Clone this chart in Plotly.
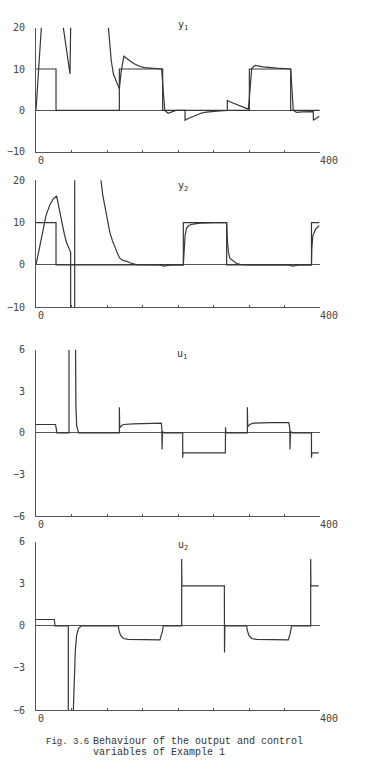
import plotly.graph_objects as go

# ---------------- data ----------------
# y1 : setpoint and output
r1_t = [0, 28.2, 28.2, 117.4, 117.4, 178.4, 178.4, 300.5, 300.5, 358.7, 358.7, 399]
r1_v = [10, 10, 0, 0, 10, 10, 0, 0, 10, 10, 0, 0]
y1_t = [0, 8, 12, 25, 35, 38.5, 43.2, 47.9, 48.8, 51, 70, 90, 102, 106, 109, 114,
        117.4, 120, 123.9, 126, 128, 132, 136, 139, 146.5, 153, 160.6, 170, 177, 179,
        181.5, 186, 190, 197, 209.9, 209.9, 213, 217, 221, 226, 233, 240, 249, 259,
        269.5, 269.5, 273, 278, 282, 287, 293, 299,
        300.5, 303.8, 308.5, 314, 320, 339, 358.7, 362.4, 367, 375, 386, 390.6,
        390.6, 395, 399]
y1_v = [0, 20, 32, 45, 32, 20, 14, 8.8, 20, 30, 40, 40, 20, 12, 8.8, 6.4,
        5.2, 9.5, 13.2, 12.8, 12.5, 12.0, 11.5, 11.2, 10.6, 10.35, 10.2, 10.05, 10.0, 5,
        0, -0.7, -0.4, 0, 0, -2.4, -2.1, -1.8, -1.4, -1.0, -0.65, -0.4, -0.22, -0.1,
        0, 2.4, 2.1, 1.75, 1.35, 0.95, 0.6, 0.3,
        3, 10.1, 10.9, 10.7, 10.5, 10.2, 10.0, 0, -0.5, -0.35, -0.3, -0.3,
        -2.4, -1.9, -1.4]

# y2 : setpoint and output
r2_t = [0, 28.2, 28.2, 207.5, 207.5, 268.5, 268.5, 388, 388, 399]
r2_v = [10, 10, 0, 0, 10, 10, 0, 0, 10, 10]
y2_t = [0, 5.6, 14, 19.7, 24.4, 29, 32.9, 36, 39.9, 43, 46.5, 48, 48.8, 48.8,
        54.5, 54.5, 70, 91.5, 94, 97, 100.5, 104, 107.5, 111, 114.5, 118, 122, 127.7,
        134, 141.8, 160, 175, 180, 190,
        207.5, 208.5, 210, 212, 215, 219, 225, 231, 250, 268.5, 269.5, 271, 273, 278,
        282, 287, 300, 355, 362, 370, 388, 388.5, 390, 394, 399]
y2_v = [0, 5.0, 11.6, 14.3, 15.6, 16.3, 13.1, 10, 7.3, 5.3, 4, 3.4, 3, -30,
        -30, 60, 60, 20, 16.5, 13.9, 10.5, 7.7, 5.8, 4.2, 2.8, 1.6, 1.1, 0.86,
        0.4, 0.1, 0, 0, -0.3, 0,
        0, 4, 7, 8.7, 9.25, 9.6, 9.8, 9.9, 10, 10, 6, 3, 1.6, 0.8,
        0.4, 0.16, 0, 0, -0.3, 0, 0, 4, 7, 8.5, 9.3]

# u1
u1_t = [0, 27.5, 28.5, 29.5, 46.5, 46.5, 55, 55.3, 56.2, 57.3, 59, 60, 117.4, 117.4,
        117.9, 120, 123, 137, 176.5, 177.3, 177.5, 178.2, 180, 206.6, 206.6, 207,
        266.7, 266.9, 267.5, 297.7, 297.7, 298.2, 301, 306, 330, 356, 357.5, 357.7,
        358.5, 361, 388, 388, 388.5, 398]
u1_v = [0.6, 0.6, 0.3, 0, 0, 12, 12, 6, 2, 0.5, 0.1, 0, 0, 1.85,
        0.35, 0.5, 0.6, 0.65, 0.7, 0.3, -1.2, 0.1, 0, 0, -1.8, -1.45,
        -1.45, 0.4, 0, 0, 1.85, 0.45, 0.6, 0.7, 0.74, 0.74, 0.3, -1.2,
        0.1, 0, 0, -1.8, -1.45, -1.45]

# u2
u2_t = [0, 25.8, 26.8, 45.5, 45.5, 52.6, 52.6, 53.5, 55.4, 57.3, 60, 64, 116, 116.8,
        119, 123, 130, 174.6, 177, 178.4, 179.3, 205.2, 205.2, 205.5, 265.3, 265.5,
        266, 296.7, 297.5, 299.7, 303.7, 310.7, 355.3, 357.7, 359.1, 360, 386.9,
        386.9, 387.2, 398]
u2_v = [0.45, 0.45, 0, 0, -15, -15, -6, -4, -1.75, -0.63, -0.18, 0, 0, -0.3,
        -0.67, -0.9, -0.97, -1, -0.63, -0.3, 0, 0, 4.76, 2.85, 2.85, -1.9,
        0, 0, -0.3, -0.67, -0.9, -0.97, -1, -0.63, -0.3, 0, 0,
        4.76, 2.85, 2.85]

panel_names = ["y<sub>1</sub>", "y<sub>2</sub>", "u<sub>1</sub>", "u<sub>2</sub>"]
y_ranges = [[-10, 20], [-10, 20], [-6, 6], [-6, 6]]
y_ticks = [[-10, 0, 10, 20], [-10, 0, 10, 20], [-6, -3, 0, 3, 6], [-6, -3, 0, 3, 6]]
x_range = [0, 400]
x_labels = ["0", "400"]
caption_1 = "Fig. 3.6"
caption_2 = "Behaviour of the output and control"
caption_3 = "variables of Example 1"

# ---------------- layout geometry ----------------
W, H = 378, 782
x_dom = [36 / W, 320 / W]
# (top px, bottom px) of each panel's y-range
panel_px = [(22, 148), (177, 306), (349, 518), (544, 715)]
title_px = [(183, 20), (183, 183), (182, 354), (183, 548)]

LINE = "#363636"
AX = "#555555"
TICKFONT = dict(family="DejaVu Sans Mono", size=10, color="#444444")

series = [
    [(r1_t, r1_v), (y1_t, y1_v)],
    [(r2_t, r2_v), (y2_t, y2_v)],
    [(u1_t, u1_v)],
    [(u2_t, u2_v)],
]

fig = go.Figure()
annotations = []
for i in range(4):
    n = "" if i == 0 else str(i + 1)
    for (tt, vv) in series[i]:
        fig.add_trace(go.Scatter(x=tt, y=vv, mode="lines",
                                 line=dict(color=LINE, width=1.2),
                                 xaxis="x" + n, yaxis="y" + n,
                                 showlegend=False, hoverinfo="skip"))
    top, bot = panel_px[i]
    fig.layout["xaxis" + n] = dict(
        domain=x_dom, range=x_range, anchor="y" + n,
        showline=True, linecolor=AX, linewidth=1, showgrid=False, zeroline=False,
        ticks="inside", ticklen=2, tickcolor=AX, tickvals=[50, 100, 150, 200, 250, 300, 350],
        showticklabels=False, fixedrange=True)
    fig.layout["yaxis" + n] = dict(
        domain=[1 - bot / H, 1 - top / H], range=y_ranges[i], anchor="x" + n,
        showline=True, linecolor=AX, linewidth=1, showgrid=False,
        zeroline=True, zerolinecolor=AX, zerolinewidth=1,
        tickvals=y_ticks[i], ticks="outside", ticklen=8, tickcolor="rgba(0,0,0,0)",
        tickfont=TICKFONT, fixedrange=True)
    for lab, xv in zip(x_labels, x_range):
        annotations.append(dict(text=lab, x=xv, y=y_ranges[i][0],
                                xref="x" + n, yref="y" + n, xanchor="left", yanchor="top",
                                xshift=-2 if xv else 0, yshift=-1, showarrow=False,
                                font=TICKFONT))
    tx, ty = title_px[i]
    annotations.append(dict(text=panel_names[i], x=tx / W, y=1 - ty / H,
                            xref="paper", yref="paper", xanchor="center", yanchor="middle",
                            showarrow=False,
                            font=dict(family="DejaVu Sans Mono", size=10, color="#333333")))

CAPFONT = dict(family="Liberation Mono", size=10, color="#333333")
annotations.append(dict(text=caption_1, x=44 / W, y=1 - 747 / H, xref="paper", yref="paper",
                        xanchor="left", yanchor="middle", showarrow=False,
                        font=dict(family="Liberation Mono", size=9, color="#333333")))
annotations.append(dict(text=caption_2, x=91 / W, y=1 - 747 / H, xref="paper", yref="paper",
                        xanchor="left", yanchor="middle", showarrow=False, font=CAPFONT))
annotations.append(dict(text=caption_3, x=91 / W, y=1 - 758 / H, xref="paper", yref="paper",
                        xanchor="left", yanchor="middle", showarrow=False, font=CAPFONT))

fig.update_layout(width=W, height=H, margin=dict(l=0, r=0, t=0, b=0),
                  paper_bgcolor="white", plot_bgcolor="white",
                  annotations=annotations, showlegend=False)

fig.write_html("out.html", config={"displayModeBar": False})
